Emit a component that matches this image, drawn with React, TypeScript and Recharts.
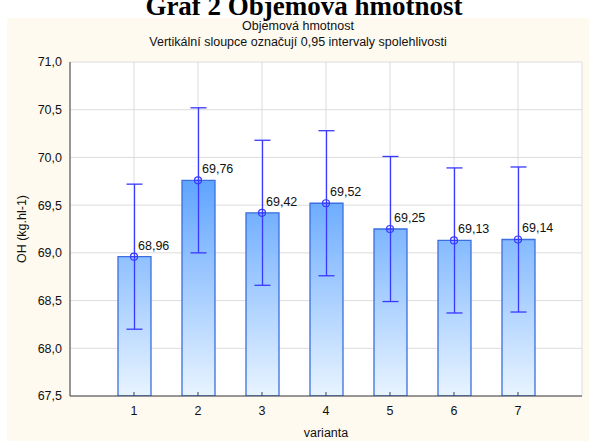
import { Bar, CartesianGrid, ComposedChart, ErrorBar, LabelList, Line, XAxis, YAxis } from 'recharts'

// mean bulk density per variant with 0.95 confidence half-widths
const variants = ['1', '2', '3', '4', '5', '6', '7']
const means = [68.96, 69.76, 69.42, 69.52, 69.25, 69.13, 69.14]
const ciHalf = [0.76, 0.76, 0.76, 0.76, 0.76, 0.76, 0.76]
const yTicks = [67.5, 68, 68.5, 69, 69.5, 70, 70.5, 71]

const data = variants.map((name, i) => ({ name, mean: means[i], ci: ciHalf[i] }))

const fmt = (v: number, digits = 2) => v.toFixed(digits).replace('.', ',')

const FONT = '"Liberation Sans", Arial, sans-serif'
const BLUE = '#3838ff'
const AXIS = '#404040'

const PLOT_TOP = 62
const PLOT_BOTTOM = 396

const Marker = (props: any) => {
  const { cx, cy } = props
  if (cx == null || cy == null) return <g />
  return (
    <g>
      <circle cx={cx} cy={cy} r={3.5} fill='none' stroke={BLUE} strokeWidth={1.2} />
      <line x1={cx - 3.5} x2={cx + 3.5} y1={cy} y2={cy} stroke={BLUE} strokeWidth={1} />
    </g>
  )
}

const MeanLabel = (props: any) => {
  const { x, y, value } = props
  return (
    <text x={x + 4} y={y - 7} fontSize={12.5} fontFamily={FONT} fill='#111'>
      {fmt(Number(value))}
    </text>
  )
}

const NoTick = () => <g />

export default function App() {
  return (
    <div style={{ position: 'absolute', left: 0, top: 0, width: 589, height: 441, background: '#fff', overflow: 'hidden' }}>
      <div style={{ position: 'absolute', left: 7, top: 18, right: 0, bottom: 0, background: '#fffaf0' }} />
      <div style={{ position: 'absolute', left: 0, top: 0 }}>
        <ComposedChart width={589} height={441} data={data} margin={{ top: PLOT_TOP, right: 7, bottom: 0, left: 0 }}>
          <defs>
            <linearGradient id='barFill' gradientUnits='userSpaceOnUse' x1='0' y1={PLOT_TOP} x2='0' y2={PLOT_BOTTOM}>
              <stop offset='0%' stopColor='#1478ff' />
              <stop offset='100%' stopColor='#e8f4ff' />
            </linearGradient>
          </defs>
          <CartesianGrid fill='#fff' stroke='#dcdcdc' />
          <XAxis
            dataKey='name'
            padding={{ left: 32, right: 32 }}
            height={45}
            stroke={AXIS}
            tickSize={-4}
            tickMargin={14}
            tick={{ fontSize: 12.5, fontFamily: FONT, fill: '#111' }}
          />
          <XAxis xAxisId='t' dataKey='name' orientation='top' padding={{ left: 32, right: 32 }} height={0} stroke={AXIS} tickSize={-4} tick={NoTick} />
          <YAxis
            domain={[67.5, 71]}
            ticks={yTicks}
            width={70}
            stroke={AXIS}
            tickLine={false}
            tickMargin={2}
            tickFormatter={v => fmt(v, 1)}
            tick={{ fontSize: 12.5, fontFamily: FONT, fill: '#111' }}
            allowDataOverflow
          />
          <YAxis yAxisId='r' orientation='right' domain={[67.5, 71]} ticks={yTicks} width={0} stroke={AXIS} tickSize={-4} tick={NoTick} />
          <Bar dataKey='mean' barSize={33} fill='url(#barFill)' stroke='#3a6fe0' strokeWidth={1.3} isAnimationActive={false}>
            <ErrorBar dataKey='ci' width={8} stroke={BLUE} strokeWidth={1.3} direction='y' />
          </Bar>
          <Line dataKey='mean' stroke='none' dot={<Marker />} activeDot={false} isAnimationActive={false}>
            <LabelList dataKey='mean' content={<MeanLabel />} />
          </Line>
          <text x={304} y={15} textAnchor='middle' fontSize={27} fontWeight='bold' fontFamily='"Liberation Serif", "Times New Roman", serif' fill='#000'>
            Graf 2 Objemová hmotnost
          </text>
          <text x={298} y={30} textAnchor='middle' fontSize={12.5} fontFamily={FONT} fill='#111'>
            Objemová hmotnost
          </text>
          <text x={298} y={46} textAnchor='middle' fontSize={12.5} fontFamily={FONT} fill='#111'>
            Vertikální sloupce označují 0,95 intervaly spolehlivosti
          </text>
          <text x={326} y={437} textAnchor='middle' fontSize={12.5} fontFamily={FONT} fill='#111'>
            varianta
          </text>
          <text x={26} y={229} textAnchor='middle' fontSize={12.5} fontFamily={FONT} fill='#111' transform='rotate(-90 26 229)'>
            OH (kg.hl-1)
          </text>
        </ComposedChart>
      </div>
    </div>
  )
}
